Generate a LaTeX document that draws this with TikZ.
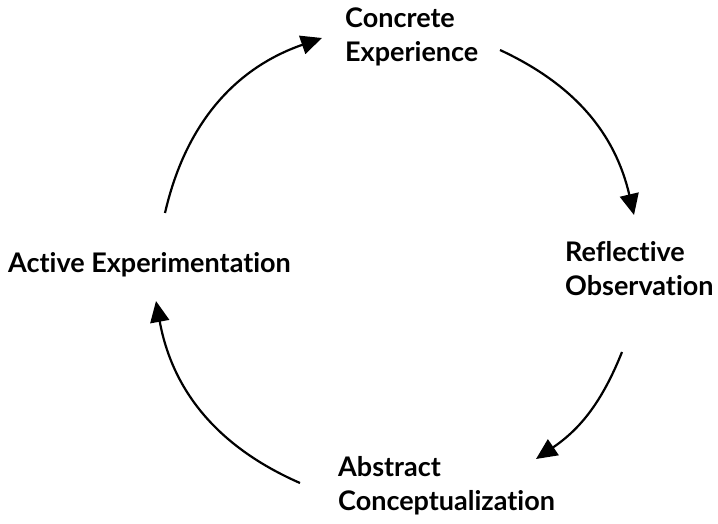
\documentclass[tikz,border=0pt]{standalone}
\usepackage{fontspec}
\setmainfont{Lato}[UprightFont=* Bold, Ligatures=NoCommon]
\usetikzlibrary{arrows.meta}
\begin{document}
\begin{tikzpicture}[x=1pt,y=1pt,
  label/.style={inner sep=0pt, anchor=base west, align=left,
    font=\fontsize{27}{34}\selectfont},
  cycle/.style={line width=2.2pt, -{Triangle[length=21pt,width=19pt]}}]
  \useasboundingbox (0,0) rectangle (718,523);

  % stage labels (anchored at the baseline of their last line)
  \node[label] (ce) at (345,461) {Concrete\\Experience};
  \node[label] (ro) at (565,228) {Reflective\\Observation};
  \node[label] (ac) at (338,13) {Abstract\\Conceptualization};
  \node[label] (ae) at (8,251) {Active Experimentation};

  % arrow ends of the cycle
  \coordinate (a1s) at (165,310); \coordinate (a1e) at (322,485);
  \coordinate (a2s) at (500,473); \coordinate (a2e) at (634,308);
  \coordinate (a3s) at (622,171); \coordinate (a3e) at (536,64);
  \coordinate (a4s) at (300,40);  \coordinate (a4e) at (156,222);

  \draw[cycle] (a1s) to[bend left=29] (a1e);
  \draw[cycle] (a2s) to[bend left=26] (a2e);
  \draw[cycle] (a3s) to[bend left=17] (a3e);
  \draw[cycle] (a4s) to[bend left=28] (a4e);
\end{tikzpicture}
\end{document}
